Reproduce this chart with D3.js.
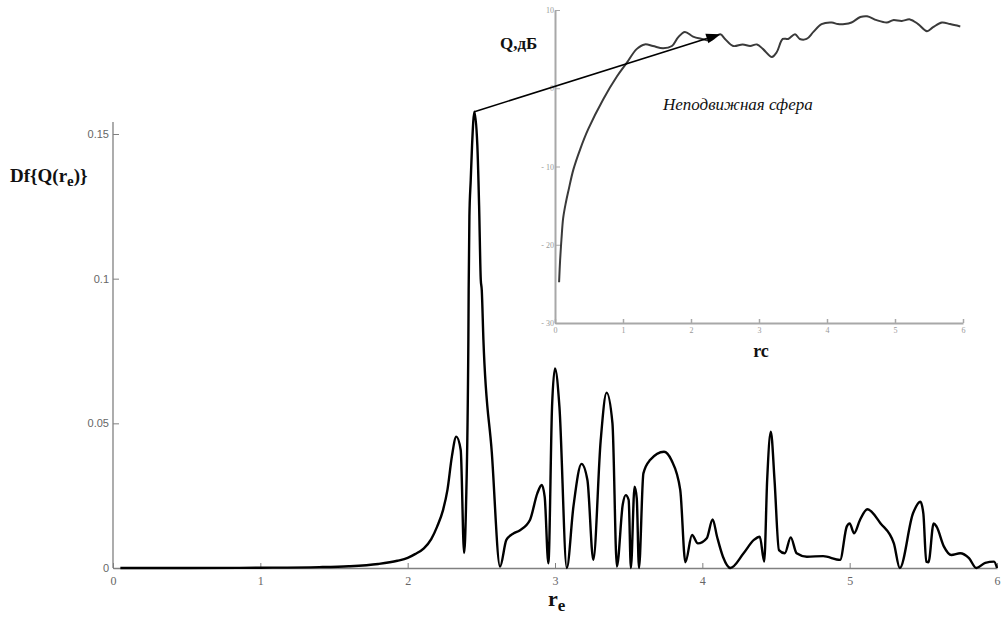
<!DOCTYPE html>
<html>
<head>
<meta charset="utf-8">
<script src="https://cdn.jsdelivr.net/npm/d3@7"></script>
<style>
  html, body { margin: 0; padding: 0; background: #fff; }
  svg { display: block; }
</style>
</head>
<body>
<svg id="chart" width="1002" height="617"></svg>
<script>
// Main curve: Df{Q(re)} against re
const mainRe = [0.05, 0.5, 1.0, 1.4, 1.6, 1.8, 1.93, 2.0, 2.05, 2.11, 2.16, 2.20, 2.24, 2.27, 2.30, 2.33, 2.36,
  2.383, 2.396, 2.412, 2.414, 2.419, 2.428, 2.437, 2.453, 2.473, 2.485, 2.496, 2.503, 2.514, 2.571, 2.627,
  2.67, 2.72, 2.76, 2.83, 2.88, 2.91, 2.93, 2.955, 2.98, 3.00, 3.03, 3.08, 3.125, 3.18, 3.22, 3.26,
  3.31, 3.35, 3.39, 3.42, 3.46, 3.48, 3.50, 3.515, 3.54, 3.555, 3.57, 3.60, 3.645, 3.74, 3.79, 3.85,
  3.885, 3.93, 3.97, 4.03, 4.07, 4.10, 4.14, 4.19, 4.28, 4.35, 4.39, 4.42, 4.44, 4.465, 4.49, 4.52,
  4.56, 4.60, 4.64, 4.71, 4.82, 4.935, 4.98, 5.00, 5.03, 5.07, 5.12, 5.21, 5.30, 5.34, 5.43, 5.48,
  5.50, 5.52, 5.535, 5.57, 5.59, 5.64, 5.69, 5.75, 5.81, 5.86, 5.92, 5.98, 6.0];
const mainDf = [0, 0, 0.0001, 0.0003, 0.0006, 0.0014, 0.0025, 0.0035, 0.0048, 0.0068, 0.010, 0.0143, 0.020, 0.027, 0.0385, 0.0454, 0.0408,
  0.0052, 0.0213, 0.079, 0.096, 0.1214, 0.134, 0.146, 0.1577, 0.146, 0.125, 0.0998, 0.096, 0.079, 0.040, 0.0005,
  0.0097, 0.0120, 0.013, 0.0166, 0.0258, 0.0287, 0.0246, 0.0016, 0.0558, 0.069, 0.0558, 0.0, 0.0212, 0.036, 0.0304, 0.0028,
  0.044, 0.0606, 0.050, 0.0005, 0.0220, 0.0252, 0.0235, 0.0, 0.0281, 0.0240, 0.0, 0.0327, 0.0373, 0.0402, 0.0373, 0.027,
  0.002, 0.0114, 0.0085, 0.0103, 0.0168, 0.0108, 0.0039, 0.0, 0.0051, 0.0097, 0.0108, 0.0022, 0.0304, 0.0471, 0.0304, 0.0062,
  0.0051, 0.0106, 0.0051, 0.0039, 0.0041, 0.0028, 0.0143, 0.0154, 0.012, 0.0166, 0.0203, 0.0154, 0.0085, 0.0, 0.0189, 0.0229,
  0.0189, 0.0022, 0.002, 0.0154, 0.0143, 0.0074, 0.0045, 0.0051, 0.0034, 0.0, 0.0018, 0.0022, 0.0];

// Inset curve: Q, dB for the fixed sphere
const insetRe = [0.06, 0.075, 0.095, 0.12, 0.16, 0.2, 0.27, 0.37, 0.49, 0.71, 0.91, 1.06, 1.20, 1.32, 1.44, 1.59, 1.72, 1.81,
  1.91, 2.03, 2.16, 2.28, 2.43, 2.5, 2.62, 2.76, 2.87, 2.97, 3.06, 3.19, 3.26, 3.35, 3.43, 3.53, 3.60,
  3.70, 3.80, 3.92, 4.07, 4.16, 4.26, 4.36, 4.49, 4.59, 4.73, 4.88, 4.97, 5.10, 5.22, 5.34, 5.47, 5.56,
  5.69, 5.81, 5.96];
const insetQ = [-24.8, -22.0, -19.3, -16.6, -14.6, -13.0, -10.4, -7.8, -5.2, -1.4, 1.5, 3.3, 5.0, 5.6, 5.4, 5.1, 5.4, 6.5,
  7.2, 6.6, 6.3, 6.1, 6.9, 6.3, 5.4, 5.6, 5.4, 5.6, 5.0, 4.0, 4.6, 6.3, 6.3, 6.9, 6.3,
  6.3, 7.2, 8.2, 8.4, 8.2, 8.2, 8.4, 9.1, 9.2, 8.7, 8.4, 8.7, 8.6, 8.8, 8.2, 7.3, 7.8,
  8.4, 8.2, 7.9];

// Tick values
const mainXTicks = [0, 1, 2, 3, 4, 5, 6];
const mainYTicks = [0, 0.05, 0.1, 0.15];
const insetXTicks = [0, 1, 2, 3, 4, 5, 6];
const insetYTicks = [-30, -20, -10, 0, 10];

// Index of the main peak, and the inset point the arrow points to
const peakIndex = mainDf.indexOf(d3.max(mainDf));
const arrowTargetIndex = insetRe.indexOf(2.43);

const svg = d3.select("#chart");
svg.append("rect").attr("width", 1002).attr("height", 617).attr("fill", "#fff");

// ---------- main plot ----------
const x = d3.scaleLinear().domain([0, 6]).range([113, 997]);
const y = d3.scaleLinear().domain([0, 0.15]).range([568, 134]);

const axisColor = "#808080";

const xAxis = svg.append("g")
  .attr("transform", `translate(0,${y(0)})`)
  .call(d3.axisBottom(x).tickValues(mainXTicks).tickFormat(d3.format("d"))
    .tickSize(-5).tickSizeOuter(0).tickPadding(8));
xAxis.select(".domain").attr("stroke", axisColor).attr("stroke-width", 1.3);
xAxis.selectAll(".tick line").attr("stroke", axisColor);
xAxis.selectAll(".tick text")
  .attr("fill", "#666").attr("font-family", "Liberation Serif").attr("font-size", 12);

const yAxis = svg.append("g")
  .attr("transform", `translate(${x(0)},0)`)
  .call(d3.axisLeft(y).tickValues(mainYTicks).tickFormat(d => d === 0 ? "0" : String(d))
    .tickSize(-6).tickSizeOuter(0).tickPadding(4));
yAxis.select(".domain").remove();
yAxis.selectAll(".tick line").attr("stroke", axisColor);
yAxis.selectAll(".tick text")
  .attr("fill", "#666").attr("font-family", "Liberation Sans").attr("font-size", 11);
yAxis.append("line")
  .attr("x1", 0).attr("x2", 0).attr("y1", y(0)).attr("y2", 122)
  .attr("stroke", axisColor).attr("stroke-width", 1.3);

const mainLine = d3.line()
  .x((d, i) => x(mainRe[i]))
  .y((d, i) => y(mainDf[i]))
  .curve(d3.curveMonotoneX);

svg.append("path")
  .attr("d", mainLine(mainDf))
  .attr("fill", "none")
  .attr("stroke", "#000")
  .attr("stroke-width", 2.4)
  .attr("stroke-linejoin", "round");

// Main axis titles
const yTitle = svg.append("text")
  .attr("x", 10).attr("y", 182)
  .attr("font-family", "Liberation Serif").attr("font-weight", "bold").attr("font-size", 19)
  .attr("fill", "#111");
yTitle.append("tspan").text("Df{Q(r");
yTitle.append("tspan").attr("dy", 4).attr("font-size", 15).text("e");
yTitle.append("tspan").attr("dy", -4).text(")}");

const xTitle = svg.append("text")
  .attr("x", 548).attr("y", 606)
  .attr("font-family", "Liberation Serif").attr("font-weight", "bold").attr("font-size", 22)
  .attr("fill", "#111");
xTitle.append("tspan").text("r");
xTitle.append("tspan").attr("dy", 5).attr("font-size", 17).text("e");

// ---------- inset plot ----------
const ix = d3.scaleLinear().domain([0, 6]).range([555, 963]);
const iy = d3.scaleLinear().domain([-30, 10]).range([323, 10]);
const insetAxisColor = "#a8a8a8";

const ixAxis = svg.append("g")
  .attr("transform", `translate(0,${iy(-30)})`)
  .call(d3.axisBottom(ix).tickValues(insetXTicks).tickFormat(d3.format("d"))
    .tickSize(-4).tickSizeOuter(0).tickPadding(4));
ixAxis.select(".domain").attr("stroke", insetAxisColor).attr("stroke-width", 2);
ixAxis.selectAll(".tick line").attr("stroke", insetAxisColor).attr("stroke-width", 1.5);
ixAxis.selectAll(".tick text")
  .attr("fill", "#999").attr("font-family", "Liberation Serif").attr("font-size", 8);

const iyAxis = svg.append("g")
  .attr("transform", `translate(${ix(0)},0)`)
  .call(d3.axisLeft(iy).tickValues(insetYTicks).tickFormat(d => d < 0 ? "- " + (-d) : String(d))
    .tickSize(-5).tickSizeOuter(0).tickPadding(1));
iyAxis.select(".domain").attr("stroke", insetAxisColor).attr("stroke-width", 2);
iyAxis.selectAll(".tick line").attr("stroke", insetAxisColor).attr("stroke-width", 1);
iyAxis.selectAll(".tick text")
  .attr("fill", "#999").attr("font-family", "Liberation Serif").attr("font-size", 8);

const insetLine = d3.line()
  .x((d, i) => ix(insetRe[i]))
  .y((d, i) => iy(insetQ[i]))
  .curve(d3.curveCatmullRom.alpha(0.5));

svg.append("path")
  .attr("d", insetLine(insetQ))
  .attr("fill", "none")
  .attr("stroke", "#3a3a3a")
  .attr("stroke-width", 2)
  .attr("stroke-linejoin", "round");

svg.append("text")
  .attr("x", 500).attr("y", 49)
  .attr("font-family", "Liberation Serif").attr("font-weight", "bold").attr("font-size", 17)
  .attr("fill", "#111")
  .text("Q,дБ");

svg.append("text")
  .attr("x", 663).attr("y", 110)
  .attr("font-family", "Liberation Serif").attr("font-style", "italic").attr("font-size", 17)
  .attr("fill", "#111")
  .text("Неподвижная сфера");

svg.append("text")
  .attr("x", 761).attr("y", 357).attr("text-anchor", "middle")
  .attr("font-family", "Liberation Serif").attr("font-weight", "bold").attr("font-size", 18)
  .attr("fill", "#111")
  .text("rc");

// ---------- arrow from the main peak to the inset curve ----------
const x0 = x(mainRe[peakIndex]), y0 = y(mainDf[peakIndex]);
const x1 = ix(insetRe[arrowTargetIndex]), y1 = iy(insetQ[arrowTargetIndex]);
const ang = Math.atan2(y1 - y0, x1 - x0);
const headLen = 14, headHalf = 5;
const bx = x1 - headLen * Math.cos(ang), by = y1 - headLen * Math.sin(ang);

svg.append("line")
  .attr("x1", x0).attr("y1", y0).attr("x2", bx).attr("y2", by)
  .attr("stroke", "#000").attr("stroke-width", 1.6);

svg.append("path")
  .attr("d", d3.line()([
    [x1, y1],
    [bx + headHalf * Math.sin(ang), by - headHalf * Math.cos(ang)],
    [bx - headHalf * Math.sin(ang), by + headHalf * Math.cos(ang)]
  ]) + "Z")
  .attr("fill", "#000");
</script>
</body>
</html>
